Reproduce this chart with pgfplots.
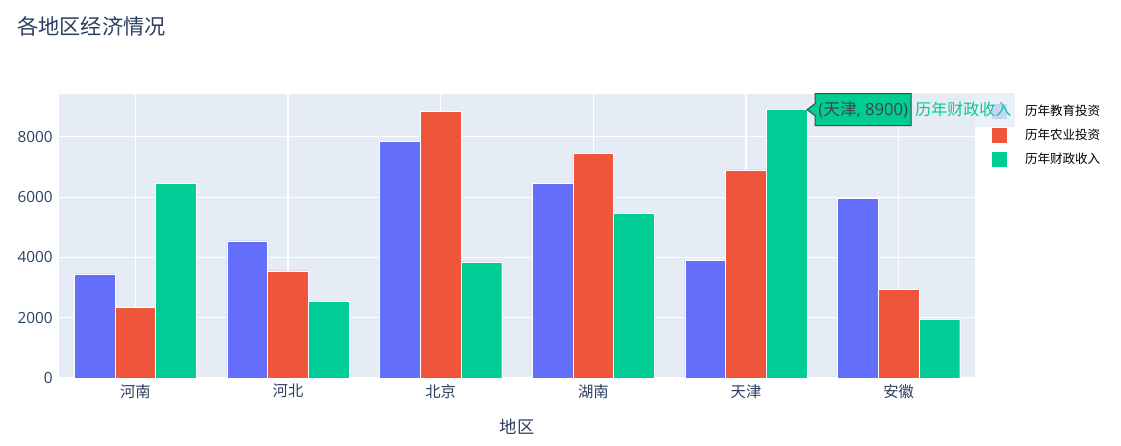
\documentclass[border=0pt]{standalone}
\usepackage{fontspec}
\setmainfont{Open Sans}
\newfontfamily\cjk{Noto Sans CJK SC}
\usepackage{pgfplots}
\pgfplotsset{compat=1.18}
\definecolor{cblue}{HTML}{636EFA}
\definecolor{cred}{HTML}{EF553B}
\definecolor{cgreen}{HTML}{00CC96}
\definecolor{bgc}{HTML}{E5ECF6}
\definecolor{txt}{HTML}{2A3F5F}
\definecolor{hovb}{HTML}{444444}
\pgfplotsset{sqlegend/.style={legend image code/.code={\fill[##1,draw=none] (0pt,-5.6pt) rectangle (11.25pt,5.6pt);}}}
\begin{document}
\begin{tikzpicture}
\useasboundingbox (0,0) rectangle (840.75pt,334.5pt);
\node[anchor=west, inner sep=0pt, text=txt, font=\cjk\fontsize{15.9}{18}\selectfont] at (12.75pt,314.6pt) {各地区经济情况};
\begin{axis}[
  at={(44.25pt,51pt)}, anchor=south west,
  scale only axis, width=687pt, height=213pt,
  xmin=-0.5, xmax=5.5, ymin=0, ymax=9420,
  axis background/.style={fill=bgc},
  axis line style={draw=none},
  major tick length=0pt,
  xtick={0,1,2,3,4,5},
  xticklabels={河南,河北,北京,湖南,天津,安徽},
  ytick={0,2000,4000,6000,8000},
  grid=major,
  major grid style={white, line width=0.8pt},
  scaled y ticks=false,
  /pgf/number format/1000 sep={},
  /pgf/number format/assume math mode=true,
  yticklabel style={font=\fontsize{11.5}{13}\selectfont, text=txt, inner sep=0pt, xshift=-4.5pt},
  xticklabel style={font=\cjk\fontsize{11.5}{13}\selectfont, text=txt, inner sep=0pt, yshift=-4.5pt},
  xlabel={地区},
  xlabel style={font=\cjk\fontsize{13}{15}\selectfont, text=txt, at={(axis description cs:0.5,0)}, anchor=center, yshift=-36.75pt},
  ybar,
  bar width=0.2667,
  legend style={at={(rel axis cs:1.0186,0.963)}, anchor=north west, draw=none, fill=none,
    inner sep=0pt, outer sep=0pt, row sep=6.8pt, column sep=13.5pt,
    font=\cjk\fontsize{9.4}{11}\selectfont, text=black,
    nodes={inner sep=0pt, text height=8.5pt, text depth=2.7pt}},
  legend cell align=left,
]
\addplot[sqlegend, bar shift=-0.2667, fill=cblue, draw=white, line width=0.35pt] coordinates {(0,3450) (1,4550) (2,7850) (3,6450) (4,3900) (5,5950)};
\addlegendentry{历年教育投资}
\addplot[sqlegend, bar shift=0, fill=cred, draw=white, line width=0.35pt] coordinates {(0,2350) (1,3550) (2,8850) (3,7450) (4,6900) (5,2950)};
\addlegendentry{历年农业投资}
\addplot[sqlegend, bar shift=0.2667, fill=cgreen, draw=white, line width=0.35pt] coordinates {(0,6450) (1,2550) (2,3850) (3,5450) (4,8900) (5,1950)};
\addlegendentry{历年财政收入}
\coordinate (tip) at (axis cs:4.4,8900);
\end{axis}
% hover label
\fill[bgc, opacity=0.8] ([xshift=78pt,yshift=-12.8pt]tip) rectangle ([xshift=156pt,yshift=12.8pt]tip);
\node[anchor=west, inner sep=0pt, text=cgreen, font=\cjk\fontsize{12}{14}\selectfont] at ([xshift=81pt]tip) {历年财政收入};
\filldraw[fill=cgreen, draw=hovb, line width=0.75pt] (tip) -- ++(6pt,4.5pt) -- ++(0,7.5pt) -- ++(72pt,0) -- ++(0,-24pt) -- ++(-72pt,0) -- ++(0,7.5pt) -- cycle;
\node[anchor=west, inner sep=0pt, text=hovb, font=\fontsize{12.5}{14}\selectfont] at ([xshift=8.3pt]tip) {({\cjk 天津}, 8900)};
\end{tikzpicture}
\end{document}
